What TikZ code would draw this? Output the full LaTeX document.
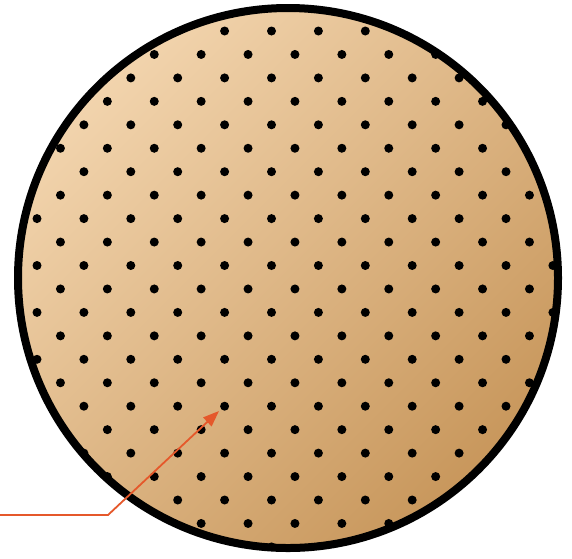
\documentclass[tikz,border=0pt]{standalone}
\usepackage{tikz}
\usetikzlibrary{arrows.meta}
\definecolor{cushionlt}{HTML}{F2D4AD}
\definecolor{cushiondk}{HTML}{C8975C}
\definecolor{pointerred}{HTML}{E5582B}

\begin{document}
\begin{tikzpicture}[x=1pt, y=-1pt,
  rim/.style={line width=8pt, draw=black},
  hole/.style={fill=black},
  pointer/.style={-{Triangle[length=16pt, width=12pt]}, line width=1.8pt, draw=pointerred},
]
\useasboundingbox (0,0) rectangle (572,558);

% ── Disc ──
\coordinate (centre) at (288,278);
\shade[left color=cushionlt, right color=cushiondk, shading angle=45] (centre) circle[radius=270];

% Holes
\begin{scope}
  \clip (centre) circle[radius=270];
  \foreach \i in {-1,...,23} {
    \foreach \j in {-1,...,23} {
      \pgfmathparse{int(mod(\i+\j,2))}
      \ifnum\pgfmathresult=0
        \fill[hole] (37+23.45*\i, 31+23.45*\j) circle[radius=4.5];
      \fi
    }
  }
\end{scope}

\draw[rim] (centre) circle[radius=270];

% ── Pointer ──
\coordinate (tail) at (0,515);
\coordinate (knee) at (108,515);
\coordinate (tip) at (219,411);
\draw[pointer] (tail) -- (knee) -- (tip);

\end{tikzpicture}
\end{document}
